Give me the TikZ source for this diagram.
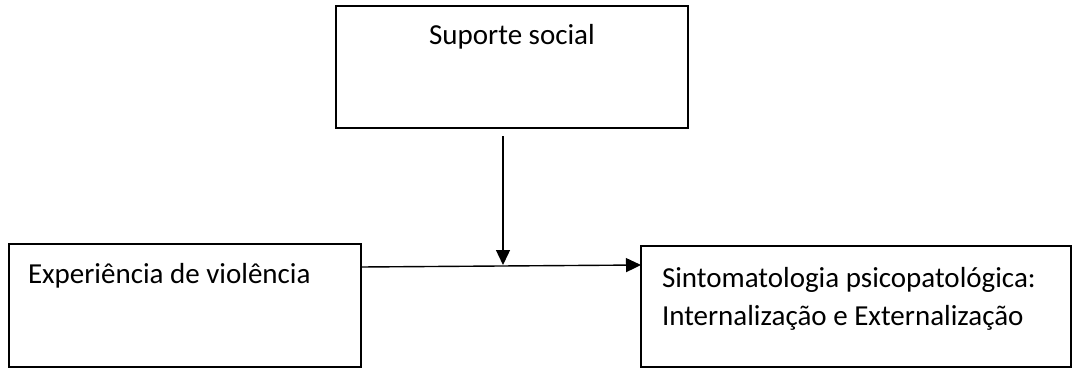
\documentclass[tikz,border=0pt]{standalone}
\usepackage{fontspec}
\setmainfont{Carlito}
\usetikzlibrary{arrows.meta,positioning}
\begin{document}
\begin{tikzpicture}[x=1pt,y=1pt,
  box/.style={draw=black, line width=1.6pt, rectangle, inner sep=0pt, outer sep=0pt},
  lbl/.style={inner sep=0pt, outer sep=0pt, font=\fontsize{29}{38}\selectfont, align=left},
  conn/.style={line width=1.4pt, -{Triangle[length=15pt,width=14pt]}}]
\useasboundingbox (0,0) rectangle (1073,-369);
\node[box, minimum width=352pt, minimum height=122pt, anchor=north west] (S) at (336,-6) {};
\node[box, minimum width=352pt, minimum height=123pt, anchor=north west] (E) at (9,-244) {};
\node[box, minimum width=430pt, minimum height=121pt, anchor=north west] (P) at (641,-246) {};
\node[lbl, anchor=base] (St) at (512,-45) {Suporte social};
\node[lbl, anchor=base west] (Et) at (28,-283) {Experiência de violência};
\node[lbl, anchor=base west] (Pt) at (662,-325) {Sintomatologia psicopatológica:\\Internalização e Externalização};
\coordinate (vtop) at (503,-136);
\coordinate (vbot) at (503,-265);
\draw[conn] (vtop) -- (vbot);
\draw[conn] ([yshift=-23pt]E.north east) -- ([yshift=-19pt]P.north west);
\end{tikzpicture}
\end{document}
